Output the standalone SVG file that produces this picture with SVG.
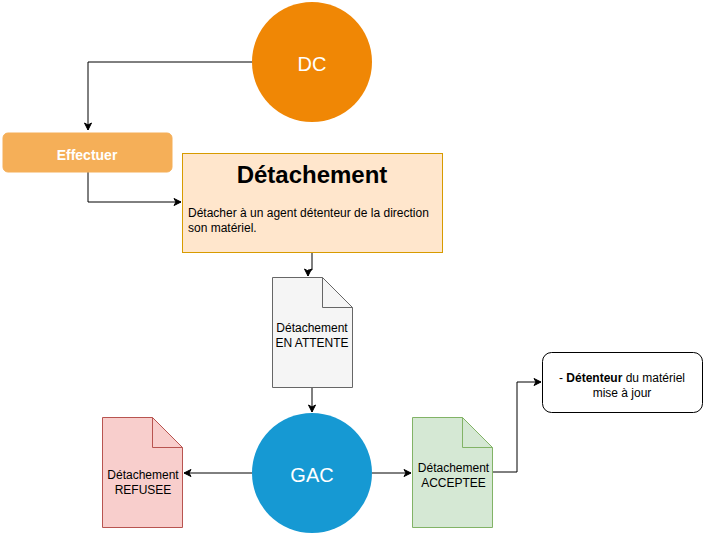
<svg xmlns="http://www.w3.org/2000/svg" width="704" height="535" viewBox="0 0 704 535">
<defs>
<marker id="arr" markerWidth="10" markerHeight="10" refX="8" refY="5" orient="auto" markerUnits="userSpaceOnUse">
<path d="M1,1.5 L8,5 L1,8.5 L3,5 Z" fill="#000" stroke="#000" stroke-width="1"/>
</marker>
</defs>
<style>
text{font-family:"Liberation Sans",Arial,sans-serif;}
.c{stroke:#000;stroke-width:1;fill:none;}
.t12{font-size:12px;fill:#000;text-anchor:middle;}
.w{fill:#fff;text-anchor:middle;}
</style>
<rect width="704" height="535" fill="#fff"/>
<g id="connectors">
<path class="c" d="M253,62 H88 V130" marker-end="url(#arr)"/>
<path class="c" d="M88,172 V202 H181" marker-end="url(#arr)"/>
<path class="c" d="M312,252 V270 H308 V276" marker-end="url(#arr)"/>
<path class="c" d="M312,387 V412" marker-end="url(#arr)"/>
<path class="c" d="M252,473 H184" marker-end="url(#arr)"/>
<path class="c" d="M372,473 H411" marker-end="url(#arr)"/>
<path class="c" d="M492,472 H517 V382 H541" marker-end="url(#arr)"/>
</g>
<g id="dc">
<circle cx="312" cy="62" r="60" fill="#F08705"/>
<text class="w" x="312" y="71" font-size="20">DC</text>
</g>
<g id="effectuer">
<rect x="3" y="133" width="169" height="39" rx="5" fill="#F5AF58" stroke="#F5AF58"/>
<text class="w" x="87" y="160" font-size="14" font-weight="bold">Effectuer</text>
</g>
<g id="detachement">
<rect x="182.5" y="153.5" width="260" height="99" fill="#FFE6CC" stroke="#D79B00"/>
<text x="312" y="183" font-size="24" font-weight="bold" text-anchor="middle">Détachement</text>
<text x="188" y="217" font-size="12">Détacher à un agent détenteur de la direction</text>
<text x="188" y="232" font-size="12">son matériel.</text>
</g>
<g id="attente">
<path d="M272.5,277.5 H322.5 L352.5,307.5 V387.5 H272.5 Z" fill="#F5F5F5" stroke="#666"/>
<path d="M322.5,277.5 V307.5 H352.5" fill="none" stroke="#666"/>
<text class="t12" x="312" y="332">Détachement</text>
<text class="t12" x="312" y="347">EN ATTENTE</text>
</g>
<g id="gac">
<circle cx="312" cy="473" r="60" fill="#1699D3"/>
<text class="w" x="312" y="482" font-size="20">GAC</text>
</g>
<g id="refusee">
<path d="M102.5,417.5 H152.5 L182.5,447.5 V527.5 H102.5 Z" fill="#F8CECC" stroke="#B85450"/>
<path d="M152.5,417.5 V447.5 H182.5" fill="none" stroke="#B85450"/>
<text class="t12" x="143" y="479">Détachement</text>
<text class="t12" x="143" y="494">REFUSEE</text>
</g>
<g id="acceptee">
<path d="M412.5,417.5 H462.5 L492.5,447.5 V527.5 H412.5 Z" fill="#D5E8D4" stroke="#82B366"/>
<path d="M462.5,417.5 V447.5 H492.5" fill="none" stroke="#82B366"/>
<text class="t12" x="453.5" y="472">Détachement</text>
<text class="t12" x="453.5" y="487">ACCEPTEE</text>
</g>
<g id="maj">
<rect x="542.5" y="352.5" width="160" height="60" rx="9" fill="#fff" stroke="#000"/>
<text class="t12" x="622" y="382">- <tspan font-weight="bold">Détenteur</tspan> du matériel</text>
<text class="t12" x="622" y="397">mise à jour</text>
</g>
</svg>
